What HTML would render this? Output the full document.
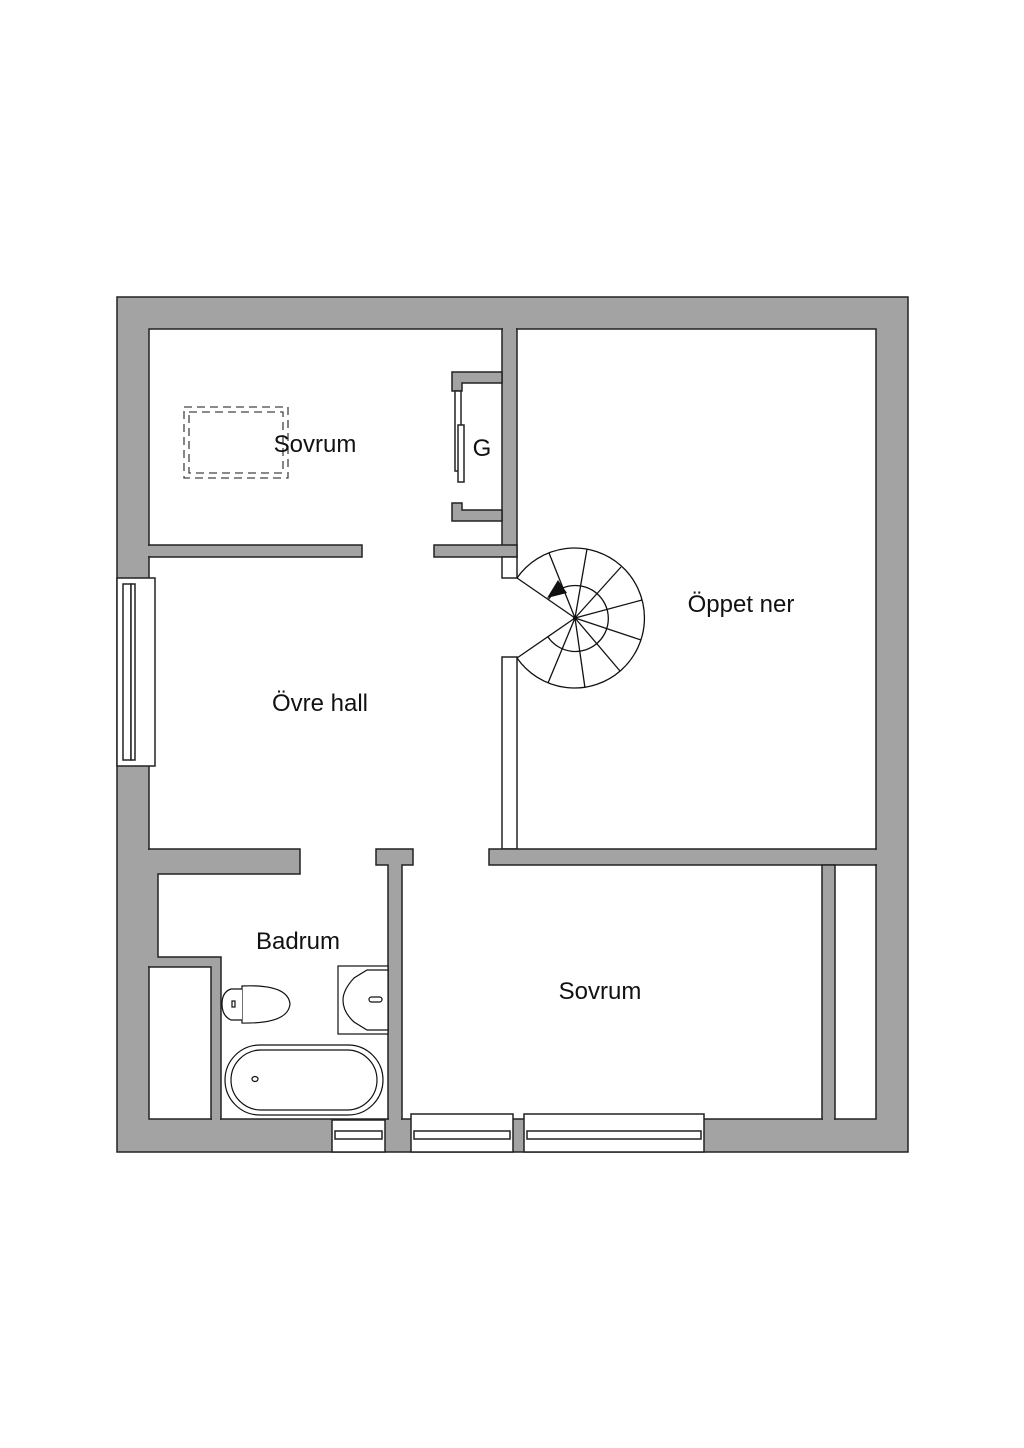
<!DOCTYPE html>
<html><head><meta charset="utf-8"><style>
html,body{margin:0;padding:0;background:#fff;}
svg{display:block;}
text{font-family:"Liberation Sans",sans-serif;font-size:24px;fill:#111;}
</style></head><body>
<svg width="1024" height="1448" viewBox="0 0 1024 1448" xmlns="http://www.w3.org/2000/svg">
<g stroke="#222" stroke-width="1.5">
<rect x="117" y="297" width="791" height="855" fill="#a3a3a3"/>
<rect x="149" y="329" width="727" height="790" fill="#fff"/>
<rect x="502" y="329" width="15" height="228" fill="#a3a3a3"/>
<rect x="149" y="545" width="213" height="12" fill="#a3a3a3"/>
<rect x="434" y="545" width="83" height="12" fill="#a3a3a3"/>
<polygon points="502,372 452,372 452,391 462,391 462,383 502,383" fill="#a3a3a3"/>
<polygon points="502,521 452,521 452,503 462,503 462,510 502,510" fill="#a3a3a3"/>
<rect x="455" y="391" width="6" height="80" fill="#fff"/>
<rect x="458" y="425" width="6" height="57" fill="#fff"/>
<rect x="502" y="557" width="15" height="21" fill="#fff"/>
<rect x="502" y="657" width="15" height="192" fill="#fff"/>
<rect x="489" y="849" width="387" height="16" fill="#a3a3a3"/>
<polygon points="149,849 300,849 300,874 158,874 158,957 221,957 221,1119 211,1119 211,967 149,967" fill="#a3a3a3"/>
<polygon points="376,849 413,849 413,865 402,865 402,1119 388,1119 388,865 376,865" fill="#a3a3a3"/>
<rect x="822" y="865" width="13" height="254" fill="#a3a3a3"/>
<rect x="117" y="578" width="38" height="188" fill="#fff"/>
<rect x="123" y="584" width="8" height="176" fill="#fff"/>
<rect x="131" y="584" width="4" height="176" fill="#fff"/>
<rect x="332" y="1120" width="53" height="32" fill="#fff"/>
<rect x="335" y="1131" width="47" height="8" fill="#fff"/>
<rect x="411" y="1114" width="102" height="38" fill="#fff"/>
<rect x="414" y="1131" width="96" height="8" fill="#fff"/>
<rect x="524" y="1114" width="180" height="38" fill="#fff"/>
<rect x="527" y="1131" width="174" height="8" fill="#fff"/>
</g>
<g fill="#a3a3a3">
<rect x="503" y="326" width="13" height="5"/>
<rect x="146" y="546" width="5" height="10"/>
<rect x="145" y="850" width="6" height="116"/>
<rect x="874" y="850" width="5" height="14"/>
<rect x="823" y="1117" width="11" height="4"/>
<rect x="389" y="1117" width="12" height="4"/>
<rect x="212" y="1117" width="8" height="4"/>
</g>
<g fill="none" stroke="#444" stroke-width="1.3" stroke-dasharray="8,5">
<rect x="184" y="407" width="104" height="71"/>
<rect x="189" y="412" width="94" height="61"/>
</g>
<g fill="none" stroke="#111" stroke-width="1.3">
<path d="M517,578 A70,70 0 1 1 517,658"/>
<path d="M548,600 A33,33 0 1 1 548,637"/>
<line x1="575" y1="618" x2="517" y2="578"/>
<line x1="575" y1="618" x2="517" y2="658"/>
<line x1="575" y1="618" x2="549" y2="553"/>
<line x1="575" y1="618" x2="587" y2="549"/>
<line x1="575" y1="618" x2="621" y2="567"/>
<line x1="575" y1="618" x2="642" y2="600"/>
<line x1="575" y1="618" x2="641" y2="640"/>
<line x1="575" y1="618" x2="620" y2="671"/>
<line x1="575" y1="618" x2="585" y2="688"/>
<line x1="575" y1="618" x2="548" y2="683"/>
</g>
<circle cx="575" cy="618" r="2" fill="#111"/>
<polygon points="558,580 567,593 547,598" fill="#111"/>
<g fill="#fff" stroke="#111" stroke-width="1.2">
<rect x="338" y="966" width="50" height="68"/>
<path d="M388,970 L367,970 L354,978 Q343,990 343,1000 Q343,1012 354,1022 L367,1030 L388,1030 Z"/>
<rect x="369" y="997" width="13" height="5" rx="2.5"/>
<path d="M242,986 Q288,984 290,1004 Q288,1024 242,1023 Z"/>
<path d="M242,989 L231,989 Q222,992 222,1004 Q222,1016 231,1020 L242,1020"/>
<rect x="232" y="1001" width="3" height="6"/>
<rect x="225" y="1045" width="158" height="70" rx="35"/>
<rect x="231" y="1050" width="146" height="60" rx="30"/>
<ellipse cx="255" cy="1079" rx="3" ry="2.5"/>
</g>
<text x="315" y="452" text-anchor="middle">Sovrum</text>
<text x="482" y="456" text-anchor="middle">G</text>
<text x="741" y="612" text-anchor="middle">Öppet ner</text>
<text x="320" y="711" text-anchor="middle">Övre hall</text>
<text x="298" y="949" text-anchor="middle">Badrum</text>
<text x="600" y="999" text-anchor="middle">Sovrum</text>
</svg>
</body></html>
